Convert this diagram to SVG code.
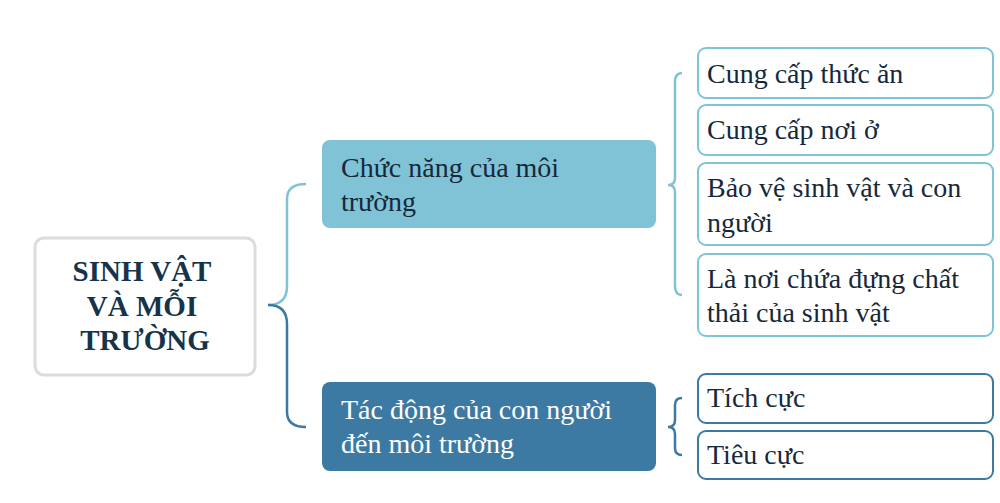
<svg xmlns="http://www.w3.org/2000/svg" width="1000" height="503" viewBox="0 0 1000 503" font-family="Liberation Serif, DejaVu Serif, serif">
<style>
  text { font-family: 'Liberation Serif', 'DejaVu Serif', serif; }
  .t { font-size: 28px; fill: #16293a; }
  .root { font-size: 29px; font-weight: bold; fill: #16334a; text-anchor: middle; }
  .w { fill: #ffffff; }
  .leafL { fill: #ffffff; stroke: #80c2d6; stroke-width: 2; }
  .leafD { fill: #ffffff; stroke: #3d7aa3; stroke-width: 2; }
  .br { fill: none; stroke-width: 2.5; }
</style>
<rect width="1000" height="503" fill="#ffffff"/>
<g id="connectors">
  <path class="br" stroke="#80c2d6" d="M268,305 Q287,305 287,286 L287,199 Q287,184 306,184"/>
  <path class="br" stroke="#3d7aa3" d="M268,305 Q287,305 287,324 L287,412 Q287,427 306,427"/>
  <path class="br" stroke="#80c2d6" stroke-width="2" d="M682,73 Q675,73 675,82 L675,178 Q675,185 668,185 Q675,185 675,192 L675,286 Q675,295 682,295"/>
  <path class="br" stroke="#3d7aa3" stroke-width="2" d="M682,398 Q675,398 675,405 L675,420 Q675,427 668,427 Q675,427 675,434 L675,448 Q675,455 682,455"/>
</g>
<g id="root">
  <rect x="35" y="238" width="220" height="137" rx="9" fill="#ffffff" stroke="#dcdcda" stroke-width="3"/>
  <text class="root" x="142" y="281" font-family="Liberation Serif">SINH VẬT</text>
  <text class="root" x="142" y="316" font-family="Liberation Serif">VÀ MỖI</text>
  <text class="root" x="145" y="350" font-family="Liberation Serif">TRƯỜNG</text>
</g>
<g id="chuc-nang">
  <rect x="322" y="140" width="334" height="88" rx="8" fill="#80c2d6"/>
  <text class="t" x="341" y="177">Chức năng của môi</text>
  <text class="t" x="341" y="211">trường</text>
</g>
<g id="tac-dong">
  <rect x="322" y="382" width="334" height="89" rx="8" fill="#3d7aa3"/>
  <text class="t w" x="341" y="419">Tác động của con người</text>
  <text class="t w" x="341" y="453">đến môi trường</text>
</g>
<g id="leaf1">
  <rect class="leafL" x="698" y="48" width="295" height="50" rx="8"/>
  <text class="t" x="707" y="83">Cung cấp thức ăn</text>
</g>
<g id="leaf2">
  <rect class="leafL" x="698" y="105" width="295" height="50" rx="8"/>
  <text class="t" x="707" y="139">Cung cấp nơi ở</text>
</g>
<g id="leaf3">
  <rect class="leafL" x="698" y="163" width="295" height="82" rx="8"/>
  <text class="t" x="707" y="197">Bảo vệ sinh vật và con</text>
  <text class="t" x="707" y="232">người</text>
</g>
<g id="leaf4">
  <rect class="leafL" x="698" y="254" width="295" height="82" rx="8"/>
  <text class="t" x="707" y="288">Là nơi chứa đựng chất</text>
  <text class="t" x="707" y="322">thải của sinh vật</text>
</g>
<g id="leaf5">
  <rect class="leafD" x="698" y="374" width="295" height="49" rx="8"/>
  <text class="t" x="707" y="407">Tích cực</text>
</g>
<g id="leaf6">
  <rect class="leafD" x="698" y="431" width="295" height="48" rx="8"/>
  <text class="t" x="707" y="464">Tiêu cực</text>
</g>
</svg>
